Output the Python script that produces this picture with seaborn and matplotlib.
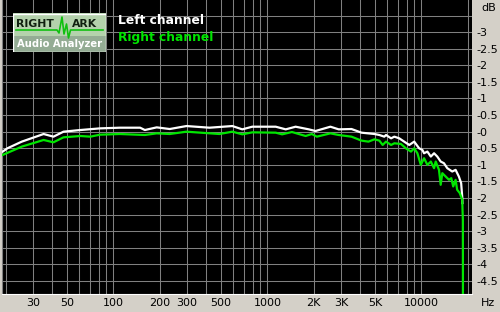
import numpy as np
import pandas as pd
import matplotlib
matplotlib.use("Agg")
import matplotlib.pyplot as plt
import seaborn as sns
from matplotlib.patches import Rectangle

# ---------------- data ----------------
left_freq = [19.1, 20.5, 25.4, 35.2, 40.8, 47.4, 61, 82, 110, 149, 160, 191, 232, 298,
             421, 592, 687, 797, 1132, 1315, 1524, 1858, 2051, 2564, 2904, 3516, 4083,
             4955, 5333, 5741, 5888, 6353, 6668, 7178, 7727, 8337, 8974, 9661, 10143,
             10399, 10930, 11508, 12078, 12679, 13335, 14000, 14720, 15850, 16670,
             17500, 18110, 18400, 18450]
left_db = [-0.60, -0.50, -0.30, -0.07, -0.15, 0.00, 0.05, 0.10, 0.12, 0.12, 0.05, 0.13,
           0.08, 0.17, 0.12, 0.17, 0.07, 0.15, 0.15, 0.07, 0.15, 0.07, 0.02, 0.15, 0.07,
           0.08, -0.03, -0.07, -0.10, -0.15, -0.10, -0.20, -0.15, -0.20, -0.30, -0.40,
           -0.30, -0.50, -0.55, -0.65, -0.60, -0.75, -0.65, -0.75, -0.90, -0.95, -1.10,
           -1.20, -1.15, -1.35, -1.55, -1.96, -2.15]

right_freq = [19.1, 25.4, 35.2, 40.8, 47.4, 61, 70.7, 82, 110, 160, 191, 232, 298, 488,
              592, 687, 797, 1132, 1245, 1443, 1770, 1942, 2094, 2564, 2904, 3516, 4083,
              4529, 4955, 5333, 5600, 5888, 6353, 6668, 7362, 7925, 8551, 8974, 9419,
              9908, 10399, 10930, 11508, 12078, 12380, 13000, 13335, 13670, 14360, 15100,
              15630, 16080, 16670, 17060, 17740, 18400, 18580, 18650]
right_db = [-0.70, -0.45, -0.25, -0.32, -0.17, -0.13, -0.15, -0.09, -0.07, -0.10, -0.05,
            -0.07, 0.00, -0.07, 0.00, -0.08, -0.02, -0.03, -0.08, -0.01, -0.13, -0.07,
            -0.15, -0.05, -0.10, -0.15, -0.27, -0.30, -0.23, -0.27, -0.40, -0.30, -0.40,
            -0.35, -0.37, -0.50, -0.60, -0.50, -0.65, -1.00, -0.80, -1.00, -0.90, -1.10,
            -0.90, -1.15, -1.60, -1.25, -1.35, -1.45, -1.40, -1.65, -1.45, -1.75, -1.85,
            -2.05, -2.65, -10.0]

series_names = ["Left channel", "Right channel"]

xtick_values = [30, 50, 100, 200, 300, 500, 1000, 2000, 3000, 5000, 10000]
xtick_labels = ["30", "50", "100", "200", "300", "500", "1000", "2K", "3K", "5K", "10000"]

ytick_values = [3.5, 3, 2.5, 2, 1.5, 1, 0.5, 0, -0.5, -1, -1.5, -2, -2.5, -3, -3.5, -4, -4.5]
ytick_labels = ["", "-3", "-2.5", "-2", "-1.5", "-1", "-0.5", "-0", "-0.5", "-1", "-1.5",
                "-2", "-2.5", "-3", "-3.5", "-4", "-4.5"]

xgrid_values = ([20, 30, 40, 50, 60, 70, 80, 90] + [100, 200, 300, 400, 500, 600, 700, 800, 900]
                + [1000, 2000, 3000, 4000, 5000, 6000, 7000, 8000, 9000] + [10000, 20000])

# ---------------- figure ----------------
BG = "#D4D0C8"
GREEN = "#00E600"
W, H = 500, 312
fig = plt.figure(figsize=(W / 100, H / 100), dpi=100, facecolor=BG)
ax = fig.add_axes([2 / W, 18 / H, 470 / W, 294 / H])
ax.set_facecolor("black")
ax.set_xscale("log")

df = pd.concat([
    pd.DataFrame({"freq": left_freq, "db": left_db, "ch": series_names[0]}),
    pd.DataFrame({"freq": right_freq, "db": right_db, "ch": series_names[1]}),
], ignore_index=True)

# grid
for xv in xgrid_values:
    ax.axvline(xv, color="#808080", lw=0.75, zorder=1)
for yv in ytick_values:
    ax.axhline(yv, color="#808080", lw=0.75, zorder=1)

sns.lineplot(data=df, x="freq", y="db", hue="ch", hue_order=series_names,
             palette=["white", GREEN], estimator=None, sort=False, lw=1.6,
             legend=False, ax=ax, zorder=3)
ax.get_lines()[-1].set_zorder(4)

ax.set_xlim(18.9, 21300)
ax.set_ylim(-4.89, 3.967)
ax.set_xlabel("")
ax.set_ylabel("")
ax.grid(False)

ax.set_xticks(xtick_values)
ax.set_xticklabels(xtick_labels)
ax.xaxis.set_minor_locator(matplotlib.ticker.NullLocator())
ax.tick_params(axis="x", length=0, pad=3, labelsize=8, colors="black")

ax.yaxis.tick_right()
ax.set_yticks(ytick_values)
ax.set_yticklabels(ytick_labels)
ax.yaxis.set_minor_locator(matplotlib.ticker.NullLocator())
ax.tick_params(axis="y", length=0, pad=3, labelsize=8, colors="black")

for s in ["top", "right"]:
    ax.spines[s].set_visible(False)
ax.spines["left"].set_color("#808080")
ax.spines["bottom"].set_color("white")

fig.text(481 / W, 1 - 8 / H, "dB", fontsize=8, va="center", ha="left")
fig.text(481 / W, 1 - 303 / H, "Hz", fontsize=8, va="center", ha="left")

# channel legend text
fig.text(118 / W, 1 - 20 / H, "Left channel", color="white", fontsize=8.8,
         fontweight="bold", va="center", ha="left")
fig.text(118 / W, 1 - 37 / H, "Right channel", color=GREEN, fontsize=8.8,
         fontweight="bold", va="center", ha="left")

# logo
lax = fig.add_axes([13 / W, 1 - 52 / H, 93 / W, 39 / H])
lax.set_xlim(13, 106)
lax.set_ylim(52, 13)
lax.axis("off")
lax.add_patch(Rectangle((13, 13), 93, 39, facecolor="#B4D2AC", edgecolor="none"))
lax.add_patch(Rectangle((13, 36), 93, 16, facecolor="#94AC94", edgecolor="none"))
lax.add_patch(Rectangle((13.5, 13.5), 92, 38, facecolor="none", edgecolor="white", lw=1))
lax.plot([16, 57, 59, 62, 64, 66.5, 68.5, 70.5, 103], [30, 30, 33, 17, 34, 24, 38, 30, 30],
         color="#10C010", lw=1.2)
lax.text(16, 24, "RIGHT", fontsize=7.8, fontweight="bold", color="#102010",
         va="center", ha="left")
lax.text(71.5, 24, "ARK", fontsize=7.8, fontweight="bold", color="#102010",
         va="center", ha="left")
lax.text(59.5, 44, "Audio Analyzer", fontsize=7.2, fontweight="bold", color="white",
         va="center", ha="center")

fig.savefig("out.png", dpi=100, facecolor=BG)
